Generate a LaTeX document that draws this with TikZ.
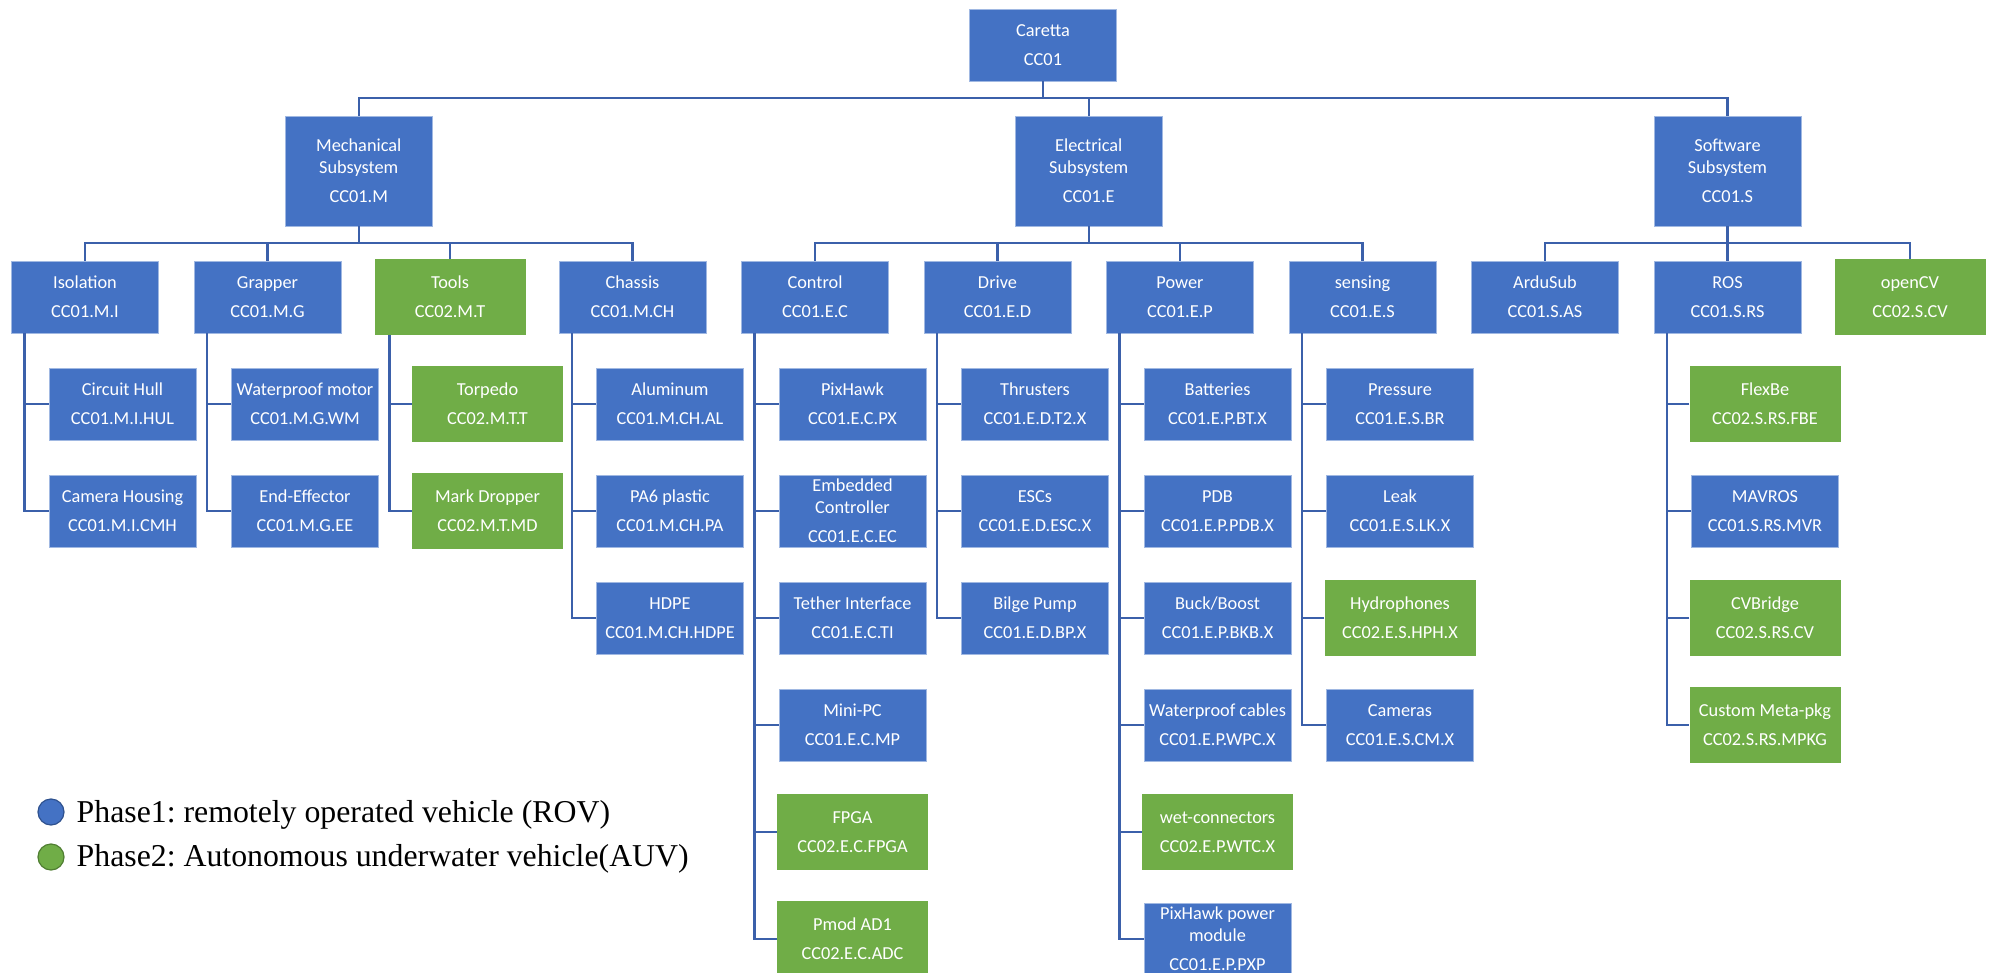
\documentclass[tikz,border=0pt]{standalone}
\usepackage{fontspec}
\newfontfamily\calfont{Carlito}
\newfontfamily\legfont{Liberation Serif}
\usetikzlibrary{calc}
\frenchspacing
\definecolor{wbsblue}{RGB}{68,114,196}
\definecolor{wbsgreen}{RGB}{112,173,71}
\definecolor{wbsborder}{RGB}{160,184,226}
\definecolor{wbsline}{RGB}{59,96,170}
\definecolor{bluedark}{RGB}{47,82,143}
\definecolor{greendark}{RGB}{80,126,50}
\newcommand\wbsstem[2]{\coordinate (#1S) at ([xshift=-60.5pt]#1.south); \draw[conn] (#1S) |- (#2.west);}
\newcommand\wbsstub[2]{\draw[conn] (#2.west) -- (#2.west -| #1S);}
\tikzset{
  box/.style={rectangle, text=white, align=center, inner sep=1pt,
    font=\calfont\fontsize{18.3}{21.3}\selectfont},
  bbox/.style={box, fill=wbsblue, draw=wbsborder, line width=0.8pt,
    minimum width=147.2pt, minimum height=72pt},
  gbox/.style={box, fill=wbsgreen, minimum width=151pt, minimum height=75.7pt},
  conn/.style={draw=wbsline, line width=2.3pt},
  legtext/.style={anchor=base west, inner sep=0pt, font=\legfont\fontsize{31.8}{36}\selectfont},
}
\begin{document}
\begin{tikzpicture}[x=1pt,y=-1pt]
\useasboundingbox (0,0) rectangle (1993,973);
% level 0 and 1
\node[bbox] (car) at (1043,45) {Caretta\\[8pt]CC01};
\node[bbox, minimum height=110pt] (mech) at (358.75,171) {Mechanical\\Subsystem\\[8pt]CC01.M};
\node[bbox, minimum height=110pt] (elec) at (1088.75,171) {Electrical\\Subsystem\\[8pt]CC01.E};
\node[bbox, minimum height=110pt] (soft) at (1727.5,171) {Software\\Subsystem\\[8pt]CC01.S};
% level 2
\node[bbox] (iso) at (85,297) {Isolation\\[8pt]CC01.M.I};
\node[bbox] (grap) at (267.5,297) {Grapper\\[8pt]CC01.M.G};
\node[gbox] (tools) at (450,297) {Tools\\[8pt]CC02.M.T};
\node[bbox] (chas) at (632.5,297) {Chassis\\[8pt]CC01.M.CH};
\node[bbox] (ctrl) at (815,297) {Control\\[8pt]CC01.E.C};
\node[bbox] (drive) at (997.5,297) {Drive\\[8pt]CC01.E.D};
\node[bbox] (power) at (1180,297) {Power\\[8pt]CC01.E.P};
\node[bbox] (sens) at (1362.5,297) {sensing\\[8pt]CC01.E.S};
\node[bbox] (ardu) at (1545,297) {ArduSub\\[8pt]CC01.S.AS};
\node[bbox] (ros) at (1727.5,297) {ROS\\[8pt]CC01.S.RS};
\node[gbox] (ocv) at (1910,297) {openCV\\[8pt]CC02.S.CV};
% level 3 mechanical
\node[bbox] (i1) at (122.5,404) {Circuit Hull\\[8pt]CC01.M.I.HUL};
\node[bbox] (i2) at (122.5,511) {Camera Housing\\[8pt]CC01.M.I.CMH};
\node[bbox] (g1) at (305,404) {Waterproof motor\\[8pt]CC01.M.G.WM};
\node[bbox] (g2) at (305,511) {End-Effector\\[8pt]CC01.M.G.EE};
\node[gbox] (t1) at (487.5,404) {Torpedo\\[8pt]CC02.M.T.T};
\node[gbox] (t2) at (487.5,511) {Mark Dropper\\[8pt]CC02.M.T.MD};
\node[bbox] (h1) at (670,404) {Aluminum\\[8pt]CC01.M.CH.AL};
\node[bbox] (h2) at (670,511) {PA6 plastic\\[8pt]CC01.M.CH.PA};
\node[bbox] (h3) at (670,618) {HDPE\\[8pt]CC01.M.CH.HDPE};
% level 3 electrical
\node[bbox] (c1) at (852.5,404) {PixHawk\\[8pt]CC01.E.C.PX};
\node[bbox] (c2) at (852.5,511) {Embedded\\Controller\\[8pt]CC01.E.C.EC};
\node[bbox] (c3) at (852.5,618) {Tether Interface\\[8pt]CC01.E.C.TI};
\node[bbox] (c4) at (852.5,725) {Mini-PC\\[8pt]CC01.E.C.MP};
\node[gbox] (c5) at (852.5,832) {FPGA\\[8pt]CC02.E.C.FPGA};
\node[gbox] (c6) at (852.5,939) {Pmod AD1\\[8pt]CC02.E.C.ADC};
\node[bbox] (d1) at (1035,404) {Thrusters\\[8pt]CC01.E.D.T2.X};
\node[bbox] (d2) at (1035,511) {ESCs\\[8pt]CC01.E.D.ESC.X};
\node[bbox] (d3) at (1035,618) {Bilge Pump\\[8pt]CC01.E.D.BP.X};
\node[bbox] (p1) at (1217.5,404) {Batteries\\[8pt]CC01.E.P.BT.X};
\node[bbox] (p2) at (1217.5,511) {PDB\\[8pt]CC01.E.P.PDB.X};
\node[bbox] (p3) at (1217.5,618) {Buck/Boost\\[8pt]CC01.E.P.BKB.X};
\node[bbox] (p4) at (1217.5,725) {Waterproof cables\\[8pt]CC01.E.P.WPC.X};
\node[gbox] (p5) at (1217.5,832) {wet-connectors\\[8pt]CC02.E.P.WTC.X};
\node[bbox] (p6) at (1217.5,939) {PixHawk power\\module\\[8pt]CC01.E.P.PXP};
\node[bbox] (s1) at (1400,404) {Pressure\\[8pt]CC01.E.S.BR};
\node[bbox] (s2) at (1400,511) {Leak\\[8pt]CC01.E.S.LK.X};
\node[gbox] (s3) at (1400,618) {Hydrophones\\[8pt]CC02.E.S.HPH.X};
\node[bbox] (s4) at (1400,725) {Cameras\\[8pt]CC01.E.S.CM.X};
% level 3 software
\node[gbox] (r1) at (1765,404) {FlexBe\\[8pt]CC02.S.RS.FBE};
\node[bbox] (r2) at (1765,511) {MAVROS\\[8pt]CC01.S.RS.MVR};
\node[gbox] (r3) at (1765,618) {CVBridge\\[8pt]CC02.S.RS.CV};
\node[gbox] (r4) at (1765,725) {Custom Meta-pkg\\[8pt]CC02.S.RS.MPKG};
% connectors level 0-1
\coordinate (bus0) at (0,98.3);
\draw[conn] (car.south) -- (car.south |- bus0);
\draw[conn] (mech.north) |- (soft.north |- bus0) -- (soft.north);
\draw[conn] (elec.north) -- (elec.north |- bus0);
% connectors level 1-2
\coordinate (bus1) at (0,243.3);
\draw[conn] (mech.south) -- (mech.south |- bus1);
\draw[conn] (iso.north) |- (chas.north |- bus1) -- (chas.north);
\draw[conn] (grap.north) -- (grap.north |- bus1);
\draw[conn] (tools.north) -- (tools.north |- bus1);
\draw[conn] (elec.south) -- (elec.south |- bus1);
\draw[conn] (ctrl.north) |- (sens.north |- bus1) -- (sens.north);
\draw[conn] (drive.north) -- (drive.north |- bus1);
\draw[conn] (power.north) -- (power.north |- bus1);
\draw[conn] (soft.south) -- (soft.south |- bus1);
\draw[conn] (ardu.north) |- (ocv.north |- bus1) -- (ocv.north);
\draw[conn] (ros.north) -- (ros.north |- bus1);
% connectors level 2-3
\wbsstem{iso}{i2} \wbsstub{iso}{i1}
\wbsstem{grap}{g2} \wbsstub{grap}{g1}
\wbsstem{tools}{t2} \wbsstub{tools}{t1}
\wbsstem{chas}{h3} \wbsstub{chas}{h1} \wbsstub{chas}{h2}
\wbsstem{ctrl}{c6} \wbsstub{ctrl}{c1} \wbsstub{ctrl}{c2} \wbsstub{ctrl}{c3} \wbsstub{ctrl}{c4} \wbsstub{ctrl}{c5}
\wbsstem{drive}{d3} \wbsstub{drive}{d1} \wbsstub{drive}{d2}
\wbsstem{power}{p6} \wbsstub{power}{p1} \wbsstub{power}{p2} \wbsstub{power}{p3} \wbsstub{power}{p4} \wbsstub{power}{p5}
\wbsstem{sens}{s4} \wbsstub{sens}{s1} \wbsstub{sens}{s2} \wbsstub{sens}{s3}
\wbsstem{ros}{r4} \wbsstub{ros}{r1} \wbsstub{ros}{r2} \wbsstub{ros}{r3}
% legend
\node[circle, fill=wbsblue, draw=bluedark, line width=1.2pt, minimum size=26pt, inner sep=0pt] (lb) at (51,812) {};
\node[circle, fill=wbsgreen, draw=greendark, line width=1.2pt, minimum size=26pt, inner sep=0pt] (lg) at (51,857) {};
\node[legtext] (lbt) at (76.5,822) {Phase1: remotely operated vehicle (ROV)};
\node[legtext] (lgt) at (76.5,866) {Phase2: Autonomous underwater vehicle(AUV)};
\end{tikzpicture}
\end{document}
